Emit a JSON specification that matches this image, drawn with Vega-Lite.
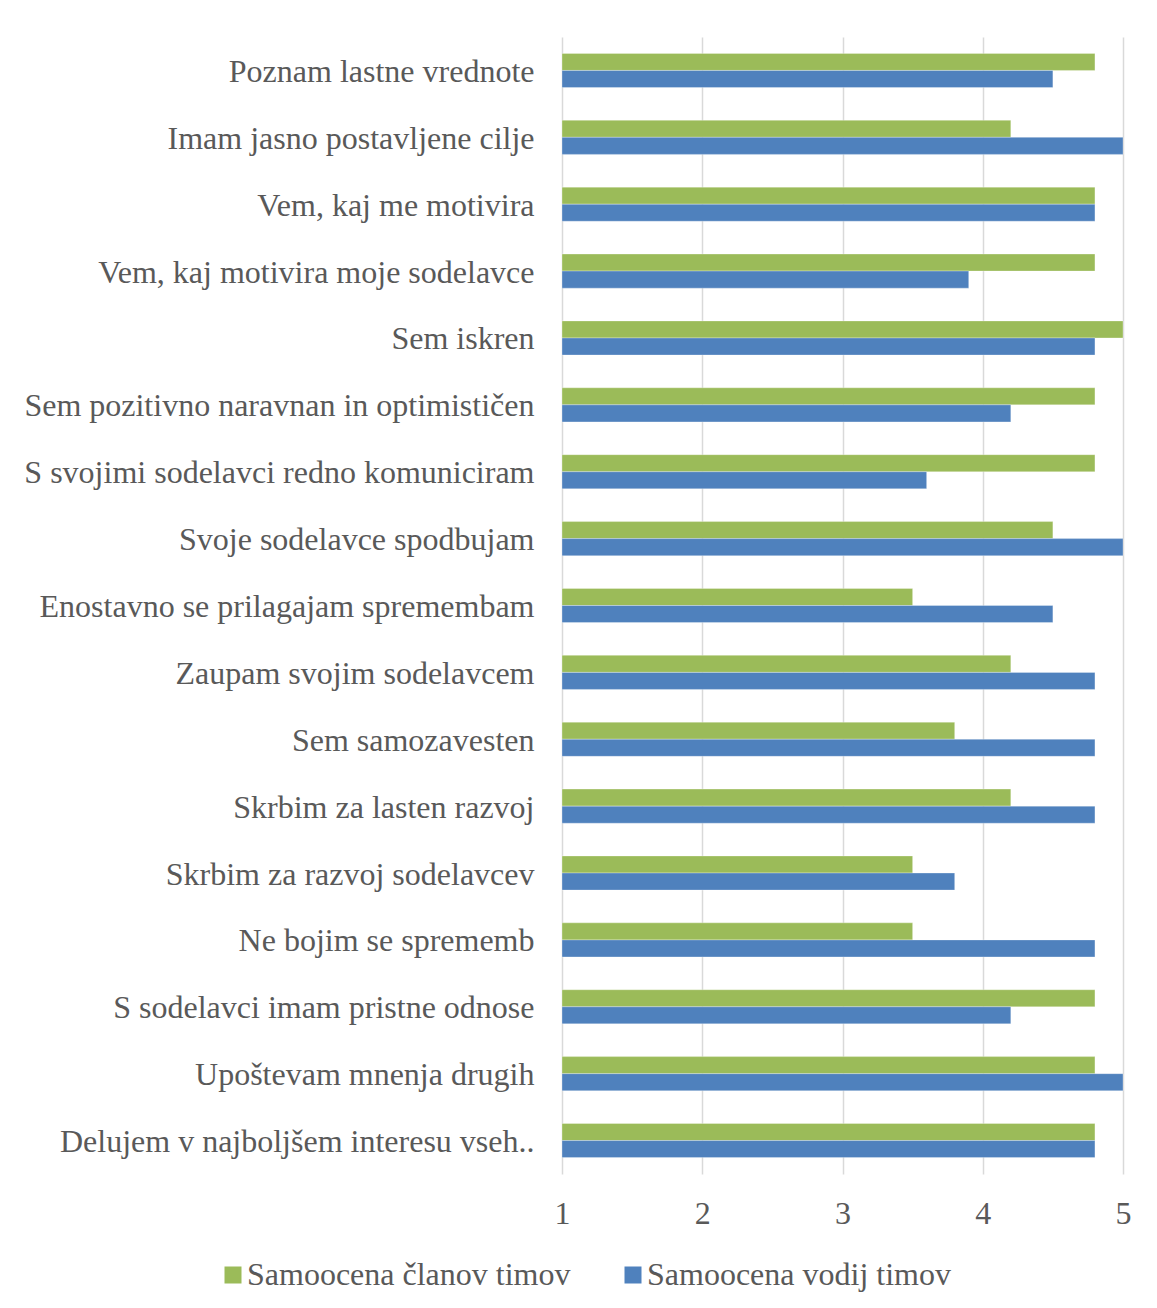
{
  "$schema": "https://vega.github.io/schema/vega-lite/v6.json",
  "autosize": {"type": "none"},
  "width": 561,
  "height": 1137,
  "padding": {"left": 562, "top": 37, "right": 34, "bottom": 134},
  "background": "white",
  "data": {"values": [
    {"item": "Poznam lastne vrednote", "series": "Samoocena članov timov", "value": 4.8},
    {"item": "Poznam lastne vrednote", "series": "Samoocena vodij timov", "value": 4.5},
    {"item": "Imam jasno postavljene cilje", "series": "Samoocena članov timov", "value": 4.2},
    {"item": "Imam jasno postavljene cilje", "series": "Samoocena vodij timov", "value": 5},
    {"item": "Vem, kaj me motivira", "series": "Samoocena članov timov", "value": 4.8},
    {"item": "Vem, kaj me motivira", "series": "Samoocena vodij timov", "value": 4.8},
    {"item": "Vem, kaj motivira moje sodelavce", "series": "Samoocena članov timov", "value": 4.8},
    {"item": "Vem, kaj motivira moje sodelavce", "series": "Samoocena vodij timov", "value": 3.9},
    {"item": "Sem iskren", "series": "Samoocena članov timov", "value": 5},
    {"item": "Sem iskren", "series": "Samoocena vodij timov", "value": 4.8},
    {"item": "Sem pozitivno naravnan in optimističen", "series": "Samoocena članov timov", "value": 4.8},
    {"item": "Sem pozitivno naravnan in optimističen", "series": "Samoocena vodij timov", "value": 4.2},
    {"item": "S svojimi sodelavci redno komuniciram", "series": "Samoocena članov timov", "value": 4.8},
    {"item": "S svojimi sodelavci redno komuniciram", "series": "Samoocena vodij timov", "value": 3.6},
    {"item": "Svoje sodelavce spodbujam", "series": "Samoocena članov timov", "value": 4.5},
    {"item": "Svoje sodelavce spodbujam", "series": "Samoocena vodij timov", "value": 5},
    {"item": "Enostavno se prilagajam spremembam", "series": "Samoocena članov timov", "value": 3.5},
    {"item": "Enostavno se prilagajam spremembam", "series": "Samoocena vodij timov", "value": 4.5},
    {"item": "Zaupam svojim sodelavcem", "series": "Samoocena članov timov", "value": 4.2},
    {"item": "Zaupam svojim sodelavcem", "series": "Samoocena vodij timov", "value": 4.8},
    {"item": "Sem samozavesten", "series": "Samoocena članov timov", "value": 3.8},
    {"item": "Sem samozavesten", "series": "Samoocena vodij timov", "value": 4.8},
    {"item": "Skrbim za lasten razvoj", "series": "Samoocena članov timov", "value": 4.2},
    {"item": "Skrbim za lasten razvoj", "series": "Samoocena vodij timov", "value": 4.8},
    {"item": "Skrbim za razvoj sodelavcev", "series": "Samoocena članov timov", "value": 3.5},
    {"item": "Skrbim za razvoj sodelavcev", "series": "Samoocena vodij timov", "value": 3.8},
    {"item": "Ne bojim se sprememb", "series": "Samoocena članov timov", "value": 3.5},
    {"item": "Ne bojim se sprememb", "series": "Samoocena vodij timov", "value": 4.8},
    {"item": "S sodelavci imam pristne odnose", "series": "Samoocena članov timov", "value": 4.8},
    {"item": "S sodelavci imam pristne odnose", "series": "Samoocena vodij timov", "value": 4.2},
    {"item": "Upoštevam mnenja drugih", "series": "Samoocena članov timov", "value": 4.8},
    {"item": "Upoštevam mnenja drugih", "series": "Samoocena vodij timov", "value": 5},
    {"item": "Delujem v najboljšem interesu vseh..", "series": "Samoocena članov timov", "value": 4.8},
    {"item": "Delujem v najboljšem interesu vseh..", "series": "Samoocena vodij timov", "value": 4.8}
  ]},
  "mark": {"type": "bar", "stroke": "white", "strokeWidth": 0.5, "strokeOpacity": 0.6},
  "encoding": {
    "y": {
      "field": "item", "type": "nominal", "sort": null,
      "scale": {"paddingInner": 0.49, "paddingOuter": 0.245},
      "axis": {"title": null, "domain": false, "ticks": false, "labelPadding": 28, "labelLimit": 700, "labelOffset": 1.5}
    },
    "yOffset": {
      "field": "series", "type": "nominal",
      "sort": ["Samoocena članov timov", "Samoocena vodij timov"]
    },
    "x": {
      "field": "value", "type": "quantitative",
      "scale": {"domain": [1, 5], "nice": false, "zero": false},
      "axis": {"title": null, "values": [1, 2, 3, 4, 5], "domain": false, "ticks": false, "labelFlush": false, "labelPadding": 24, "grid": true, "gridColor": "#d9d9d9", "gridWidth": 1.5}
    },
    "x2": {"datum": 1},
    "color": {
      "field": "series", "type": "nominal",
      "scale": {"domain": ["Samoocena članov timov", "Samoocena vodij timov"], "range": ["#9BBB59", "#4F81BD"]},
      "legend": {
        "title": null, "orient": "none", "direction": "horizontal",
        "legendX": -345, "legendY": 1222,
        "symbolType": "square", "symbolSize": 289, "symbolStrokeWidth": 0,
        "labelOffset": -2, "columnPadding": 46
      }
    }
  },
  "config": {
    "font": "Liberation Serif",
    "view": {"stroke": null},
    "axis": {"labelFont": "Liberation Serif", "labelFontSize": 32, "labelColor": "#595959"},
    "legend": {"labelFont": "Liberation Serif", "labelFontSize": 32, "labelColor": "#595959", "labelLimit": 600}
  }
}
